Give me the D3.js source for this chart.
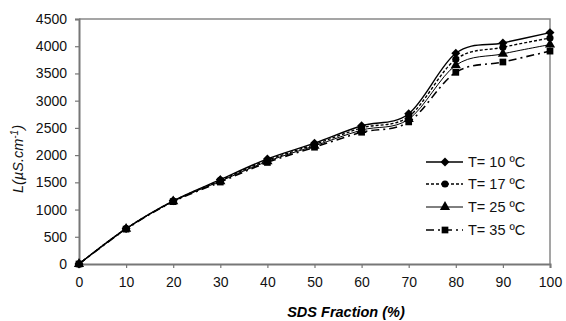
<!DOCTYPE html>
<html><head><meta charset="utf-8">
<script src="https://cdn.jsdelivr.net/npm/d3@7"></script>
<style>body{margin:0;background:#fff}svg{display:block}</style>
</head><body><svg id="c" width="566" height="321"></svg>
<script>
const xValues = [0,10,20,30,40,50,60,70,80,90,100];
const t10 = [0,650,1160,1550,1930,2220,2540,2760,3870,4060,4250];
const t17 = [0,650,1155,1535,1905,2195,2500,2710,3760,3980,4150];
const t25 = [0,645,1150,1520,1885,2170,2460,2660,3650,3860,4030];
const t35 = [0,640,1145,1505,1865,2145,2420,2610,3520,3710,3910];
const seriesNames = ["T= 10 ºC","T= 17 ºC","T= 25 ºC","T= 35 ºC"];
const xTicks = [0,10,20,30,40,50,60,70,80,90,100];
const yTicks = [0,500,1000,1500,2000,2500,3000,3500,4000,4500];

const svg = d3.select("#c");
const L=79, R=550, T=19, B=264;
const x = d3.scaleLinear().domain([0,100]).range([L,R]);
const y = d3.scaleLinear().domain([0,4500]).range([B,T]);
const font = "'Liberation Sans', Arial, sans-serif";

svg.append("path").attr("d",`M${L},${T}H${R}V${B}`).attr("fill","none").attr("stroke","#888").attr("stroke-width",1.5);

const xa = svg.append("g").attr("transform",`translate(0,${B})`)
  .call(d3.axisBottom(x).tickValues(xTicks).tickSize(4).tickPadding(9).tickFormat(d3.format("d")));
const ya = svg.append("g").attr("transform",`translate(${L},0)`)
  .call(d3.axisLeft(y).tickValues(yTicks).tickSize(4).tickPadding(8).tickFormat(d3.format("d")));
[xa,ya].forEach(a=>{
  a.select(".domain").attr("stroke","#777").attr("stroke-width",2);
  a.selectAll(".tick line").attr("stroke","#777").attr("stroke-width",1.2);
  a.selectAll("text").attr("font-family",font).attr("font-size",14).attr("fill","#111");
});

const diamond = {draw(ctx,s){const r=Math.sqrt(s/2);ctx.moveTo(0,-r);ctx.lineTo(r,0);ctx.lineTo(0,r);ctx.lineTo(-r,0);ctx.closePath();}};
const series = [
  {v:t10, dash:null, w:1.4, m:diamond, s:40},
  {v:t17, dash:"3,2", w:1.4, m:d3.symbolCircle, s:40},
  {v:t25, dash:null, w:1, m:d3.symbolTriangle, s:45},
  {v:t35, dash:"8,4,2,4", w:1.6, m:d3.symbolSquare, s:45}
];
const line = d3.line().x((d,i)=>x(xValues[i])).y(d=>y(d)).curve(d3.curveCatmullRom.alpha(0));

series.forEach(s=>{
  svg.append("path").attr("d",line(s.v)).attr("fill","none").attr("stroke","#000")
    .attr("stroke-width",s.w).attr("stroke-dasharray",s.dash);
  svg.append("g").selectAll("path").data(s.v).join("path")
    .attr("transform",(d,i)=>`translate(${x(xValues[i])},${y(d)})`)
    .attr("d",d3.symbol(s.m,s.s)).attr("fill","#000");
});

const ly=[162,184,207,230];
series.forEach((s,i)=>{
  const g=svg.append("g");
  g.append("line").attr("x1",426).attr("x2",463).attr("y1",ly[i]).attr("y2",ly[i])
    .attr("stroke","#000").attr("stroke-width",s.w).attr("stroke-dasharray",s.dash);
  g.append("path").attr("transform",`translate(445,${ly[i]})`).attr("d",d3.symbol(s.m,s.s)).attr("fill","#000");
  g.append("text").attr("x",468).attr("y",ly[i]+5).text(seriesNames[i])
    .attr("font-family",font).attr("font-size",14.5).attr("fill","#111");
});

svg.append("text").attr("x",346).attr("y",317).attr("text-anchor","middle")
  .attr("font-family",font).attr("font-size",14.5).attr("font-weight","bold").attr("font-style","italic")
  .text("SDS Fraction (%)");
const yt = svg.append("text").attr("transform","translate(23,159) rotate(-90)").attr("text-anchor","middle")
  .attr("font-family",font).attr("font-size",14.5).attr("font-style","italic").attr("fill","#111");
yt.append("tspan").text("L(µS.cm");
yt.append("tspan").attr("dy",-5).attr("font-size",10).text("-1");
yt.append("tspan").attr("dy",5).text(")");
</script></body></html>
